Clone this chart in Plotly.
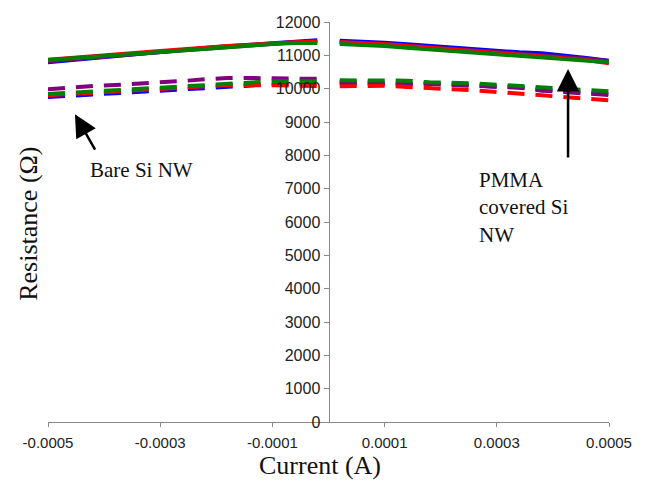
import plotly.graph_objects as go

# Current values (A) for negative and positive branches
current_neg = [-0.0005, -0.00046, -0.00042, -0.00038, -0.00034, -0.0003, -0.00026,
               -0.00022, -0.00018, -0.00014, -0.0001, -0.00006, -0.00002]
current_pos = [0.00002, 0.00006, 0.0001, 0.00014, 0.00018, 0.00022, 0.00026,
               0.0003, 0.00034, 0.00038, 0.00042, 0.00046, 0.0005]

# Solid curves (PMMA covered Si NW), resistance in ohm
solid_blue_neg   = [10790, 10860, 10930, 10990, 11040, 11100, 11170, 11220, 11270, 11320, 11370, 11420, 11450]
solid_purple_neg = [10820, 10880, 10940, 10990, 11040, 11090, 11150, 11200, 11250, 11300, 11350, 11390, 11420]
solid_red_neg    = [10870, 10930, 10980, 11030, 11080, 11130, 11190, 11240, 11280, 11320, 11360, 11390, 11410]
solid_green_neg  = [10860, 10910, 10960, 11005, 11055, 11105, 11160, 11210, 11255, 11300, 11340, 11370, 11370]

solid_blue_pos   = [11440, 11420, 11380, 11330, 11280, 11230, 11180, 11130, 11090, 11060, 11000, 10920, 10840]
solid_purple_pos = [11400, 11380, 11340, 11290, 11240, 11190, 11140, 11090, 11050, 11010, 10960, 10900, 10830]
solid_red_pos    = [11390, 11370, 11330, 11280, 11230, 11180, 11130, 11080, 11030, 10990, 10940, 10860, 10760]
solid_green_pos  = [11340, 11320, 11280, 11230, 11180, 11130, 11080, 11030, 10990, 10950, 10910, 10850, 10790]

# Dashed curves (bare Si NW), resistance in ohm
dash_blue_neg   = [9750, 9790, 9830, 9870, 9900, 9950, 9990, 10030, 10070, 10110, 10130, 10140, 10150]
dash_purple_neg = [9980, 10040, 10080, 10110, 10140, 10170, 10230, 10280, 10320, 10320, 10300, 10300, 10300]
dash_red_neg    = [9800, 9840, 9880, 9920, 9950, 9990, 10050, 10090, 10110, 10110, 10100, 10090, 10080]
dash_green_neg  = [9840, 9880, 9920, 9960, 9990, 10030, 10080, 10120, 10160, 10200, 10220, 10220, 10220]

dash_blue_pos   = [10170, 10160, 10150, 10130, 10160, 10140, 10100, 10060, 10040, 9970, 9910, 9870, 9840]
dash_purple_pos = [10200, 10190, 10180, 10170, 10140, 10110, 10080, 10050, 10030, 9940, 9890, 9850, 9810]
dash_red_pos    = [10070, 10090, 10090, 10050, 10030, 9980, 9950, 9900, 9840, 9790, 9760, 9710, 9650]
dash_green_pos  = [10250, 10240, 10230, 10240, 10190, 10180, 10160, 10120, 10080, 10040, 9990, 9960, 9920]

x_tick_vals = [-0.0005, -0.0003, -0.0001, 0.0001, 0.0003, 0.0005]
x_tick_text = ["-0.0005", "-0.0003", "-0.0001", "0.0001", "0.0003", "0.0005"]

colors = {"blue": "#0000ff", "purple": "#800080", "red": "#ff0000", "green": "#008000"}

fig = go.Figure()

dashed = [("blue", dash_blue_neg, dash_blue_pos), ("purple", dash_purple_neg, dash_purple_pos),
          ("red", dash_red_neg, dash_red_pos), ("green", dash_green_neg, dash_green_pos)]
solid = [("blue", solid_blue_neg, solid_blue_pos), ("purple", solid_purple_neg, solid_purple_pos),
         ("red", solid_red_neg, solid_red_pos), ("green", solid_green_neg, solid_green_pos)]

for name, neg, pos in dashed:
    for xs, ys in ((current_neg, neg), (current_pos, pos)):
        fig.add_trace(go.Scatter(x=xs, y=ys, mode="lines",
                                 line=dict(color=colors[name], width=4, dash="17px,11px"),
                                 showlegend=False, hoverinfo="skip"))
for name, neg, pos in solid:
    for xs, ys in ((current_neg, neg), (current_pos, pos)):
        fig.add_trace(go.Scatter(x=xs, y=ys, mode="lines",
                                 line=dict(color=colors[name], width=4),
                                 showlegend=False, hoverinfo="skip"))

axis_col = "#8a8a8a"
fig.update_layout(
    width=641, height=481,
    margin=dict(l=40, r=40, t=6, b=67),
    paper_bgcolor="white", plot_bgcolor="white",
    showlegend=False,
    xaxis=dict(range=[-0.0005, 0.0005], tickvals=x_tick_vals, ticktext=x_tick_text,
               showgrid=False, zeroline=False, showline=True, linecolor=axis_col, linewidth=1,
               ticks="outside", ticklen=4, tickcolor=axis_col, ticklabelstandoff=3,
               ticklabeloverflow="allow",
               tickfont=dict(family="Liberation Sans, Arial", size=15, color="#222")),
    yaxis=dict(range=[0, 12000], dtick=1000, tickformat="d", anchor="free", position=0.5,
               showgrid=False, zeroline=False, showline=True, linecolor=axis_col, linewidth=1,
               ticks="outside", ticklen=5, tickcolor=axis_col, ticklabeloverflow="allow",
               tickfont=dict(family="Liberation Sans, Arial", size=16, color="#222")),
    font=dict(family="Liberation Serif, Times New Roman", color="#111"),
)

serif = dict(family="Liberation Serif, Times New Roman", color="#111")
fig.add_annotation(text="Current (A)", xref="paper", yref="paper", x=0.485, y=-0.108,
                   xanchor="center", yanchor="middle", showarrow=False,
                   font=dict(size=26, **serif))
fig.add_annotation(text="Resistance (Ω)", xref="paper", yref="paper", x=-0.036, y=0.495,
                   xanchor="center", yanchor="middle", showarrow=False, textangle=-90,
                   font=dict(size=26, **serif))
fig.add_annotation(text="Bare Si NW", xref="paper", yref="paper", x=0.071, y=0.63,
                   xanchor="left", yanchor="middle", showarrow=False, font=dict(size=21, **serif))
fig.add_annotation(text="PMMA<br>covered Si<br>NW", xref="paper", yref="paper", x=0.764, y=0.64,
                   xanchor="left", yanchor="top", showarrow=False, align="left",
                   font=dict(size=21, **serif))

# arrows
fig.add_annotation(x=-0.000452, y=9235, xref="x", yref="y", text="", showarrow=True,
                   ax=21, ay=37, arrowhead=2, arrowsize=1.8, arrowwidth=2.5, arrowcolor="#000")
fig.add_annotation(x=0.000427, y=10590, xref="x", yref="y", text="", showarrow=True,
                   ax=0, ay=90, arrowhead=2, arrowsize=1.8, arrowwidth=2.5, arrowcolor="#000")

fig.write_html("out.html")
